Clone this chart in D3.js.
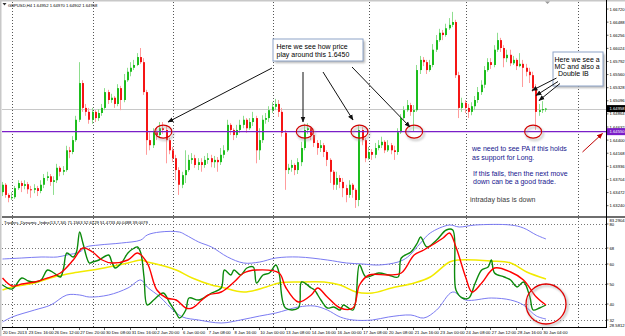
<!DOCTYPE html>
<html>
<head>
<meta charset="utf-8">
<script src="https://cdn.jsdelivr.net/npm/d3@7"></script>
<style>
  html, body { margin: 0; padding: 0; background: #fff; }
  svg { display: block; font-family: Arial, "Liberation Sans", sans-serif; }
</style>
</head>
<body>
<div id="chart"></div>
<script>
// GBPUSD H4 bars, 20 Dec 2013 .. 30 Jan 2014
const firstOpen = 1.6348;
const closes = [
  1.6361,1.6343,1.6338,1.6339,1.6355,1.6364,1.6359,1.6362,1.6353,1.6352,
  1.6355,1.6350,1.6361,1.6373,1.6376,1.6366,1.6369,1.6391,1.6384,1.6387,
  1.6422,1.6419,1.6440,1.6476,1.6541,1.6497,1.6490,1.6476,1.6490,1.6479,
  1.6488,1.6497,1.6525,1.6511,1.6515,1.6504,1.6532,1.6511,1.6546,1.6561,
  1.6568,1.6573,1.6587,1.6578,1.6525,1.6440,1.6431,1.6454,1.6449,1.6461,
  1.6458,1.6440,1.6422,1.6408,1.6387,1.6361,1.6378,1.6387,1.6405,1.6408,
  1.6396,1.6401,1.6396,1.6405,1.6408,1.6401,1.6405,1.6401,1.6414,1.6422,
  1.6467,1.6458,1.6449,1.6458,1.6467,1.6476,1.6461,1.6472,1.6479,1.6422,
  1.6440,1.6476,1.6479,1.6493,1.6499,1.6504,1.6490,1.6453,1.6387,1.6391,
  1.6396,1.6387,1.6401,1.6426,1.6458,1.6461,1.6449,1.6435,1.6426,1.6431,
  1.6419,1.6405,1.6384,1.6361,1.6373,1.6366,1.6355,1.6343,1.6361,1.6352,
  1.6334,1.6458,1.6440,1.6408,1.6419,1.6414,1.6426,1.6431,1.6437,1.6422,
  1.6431,1.6422,1.6419,1.6454,1.6479,1.6493,1.6502,1.6490,1.6493,1.6564,
  1.6582,1.6578,1.6564,1.6573,1.6600,1.6617,1.6630,1.6626,1.6638,1.6644,
  1.6649,1.6555,1.6497,1.6506,1.6497,1.6490,1.6500,1.6511,1.6525,1.6538,
  1.6564,1.6578,1.6573,1.6600,1.6617,1.6603,1.6585,1.6591,1.6576,1.6582,
  1.6571,1.6575,1.6568,1.6561,1.6555,1.6532,1.6490,1.6493,1.6495,1.64958
];
const highs = [
  1.6366,1.6364,1.6346,1.6348,1.6359,1.6369,1.6368,1.6369,1.6366,1.6359,
  1.6362,1.6359,1.6369,1.6380,1.6384,1.6380,1.6376,1.6398,1.6394,1.6394,
  1.6430,1.6428,1.6447,1.6483,1.6578,1.6546,1.6504,1.6497,1.6497,1.6493,
  1.6495,1.6504,1.6532,1.6529,1.6522,1.6518,1.6539,1.6536,1.6557,1.6568,
  1.6578,1.6582,1.6594,1.6603,1.6585,1.6529,1.6454,1.6461,1.6463,1.6472,
  1.6472,1.6465,1.6444,1.6428,1.6414,1.6392,1.6384,1.6422,1.6414,1.6417,
  1.6414,1.6408,1.6408,1.6412,1.6417,1.6414,1.6412,1.6410,1.6426,1.6431,
  1.6476,1.6470,1.6461,1.6467,1.6476,1.6483,1.6479,1.6479,1.6490,1.6483,
  1.6461,1.6484,1.6488,1.6500,1.6507,1.6513,1.6511,1.6497,1.6458,1.6398,
  1.6405,1.6399,1.6408,1.6437,1.6469,1.6470,1.6465,1.6453,1.6440,1.6440,
  1.6435,1.6422,1.6408,1.6387,1.6384,1.6378,1.6373,1.6361,1.6369,1.6364,
  1.6355,1.6467,1.6463,1.6444,1.6428,1.6424,1.6435,1.6440,1.6446,1.6440,
  1.6440,1.6435,1.6430,1.6461,1.6486,1.6500,1.6511,1.6506,1.6502,1.6573,
  1.6589,1.6587,1.6582,1.6582,1.6610,1.6626,1.6637,1.6635,1.6646,1.6656,
  1.6667,1.6653,1.6561,1.6515,1.6511,1.6504,1.6507,1.6518,1.6534,1.6546,
  1.6571,1.6585,1.6585,1.6608,1.6630,1.6621,1.6608,1.6600,1.6600,1.6589,
  1.6585,1.6594,1.6582,1.6575,1.6568,1.6561,1.6539,1.6504,1.6509,1.64970
];
const lows = [
  1.6341,1.6338,1.6330,1.6334,1.6336,1.6352,1.6348,1.6353,1.6345,1.6338,
  1.6346,1.6341,1.6346,1.6355,1.6368,1.6359,1.6343,1.6364,1.6376,1.6378,
  1.6384,1.6408,1.6415,1.6437,1.6472,1.6490,1.6483,1.6469,1.6469,1.6472,
  1.6474,1.6483,1.6493,1.6504,1.6506,1.6497,1.6500,1.6493,1.6507,1.6543,
  1.6553,1.6564,1.6571,1.6575,1.6520,1.6414,1.6422,1.6426,1.6440,1.6444,
  1.6451,1.6399,1.6415,1.6401,1.6369,1.6343,1.6355,1.6364,1.6384,1.6398,
  1.6391,1.6387,1.6384,1.6391,1.6398,1.6392,1.6391,1.6384,1.6396,1.6408,
  1.6419,1.6449,1.6440,1.6444,1.6453,1.6461,1.6453,1.6458,1.6465,1.6399,
  1.6405,1.6435,1.6469,1.6472,1.6488,1.6493,1.6481,1.6446,1.6352,1.6380,
  1.6384,1.6378,1.6380,1.6394,1.6422,1.6451,1.6440,1.6428,1.6414,1.6419,
  1.6410,1.6394,1.6364,1.6352,1.6352,1.6355,1.6339,1.6330,1.6338,1.6338,
  1.6320,1.6323,1.6431,1.6401,1.6405,1.6405,1.6408,1.6422,1.6426,1.6417,
  1.6419,1.6415,1.6405,1.6414,1.6451,1.6476,1.6490,1.6483,1.6456,1.6490,
  1.6557,1.6571,1.6557,1.6561,1.6569,1.6596,1.6614,1.6617,1.6623,1.6635,
  1.6640,1.6550,1.6479,1.6490,1.6488,1.6479,1.6484,1.6493,1.6506,1.6520,
  1.6532,1.6561,1.6566,1.6569,1.6596,1.6596,1.6569,1.6578,1.6571,1.6573,
  1.6564,1.6569,1.6534,1.6553,1.6541,1.6525,1.6458,1.6483,1.6488,1.64902
];

// Traders Dynamic Index lines, [bar, value]
const tdiUpper = [[0,62.5],[6,63],[12,63.5],[17,63.5],[20,64.5],[24,66],[26,68.5],[30,69.5],[37,70.5],[43,72],[45,74.5],[49,76],[55,76],[57,74.5],[61,71],[65,68.5],[70,63.5],[75,60.5],[80,61],[85,63],[92,63.5],[101,62],[107,60.5],[112,60],[117,59.5],[123,61],[126,63.5],[130,70.5],[133,75.5],[139,79.5],[142,78.5],[147,79.5],[158,79.5],[162,78],[166,74.5],[169,72.5]];
const tdiLower = [[0,31],[3,33.5],[10,37],[15,39.5],[20,44.5],[24,44.5],[27,43.5],[33,44.5],[39,48],[43,52],[45,48.5],[49,43.5],[53,37],[56,33.5],[61,32],[68,30.5],[74,32],[80,34],[85,35.5],[92,38.5],[97,39],[101,37],[105,33.5],[109,32],[115,32],[120,33.5],[127,34.5],[131,33],[135,37],[140,46],[144,42],[152,43],[158,42],[162,39.5],[166,34],[169,32.5]];
const tdiBase = [[0,47],[3,48.5],[10,50.5],[16,53.5],[22,55.5],[28,57],[33,58.5],[39,60.5],[43,62],[45,61],[49,59.5],[54,57],[59,53],[65,49.5],[68,48.5],[75,46],[82,48.5],[86,50.5],[92,51],[100,51],[105,49.5],[110,46],[115,45.5],[121,48],[128,50.5],[133,53.5],[139,61],[142,62],[152,61.5],[158,60.5],[163,56],[169,52.5]];
const tdiSignal = [[0,53],[3,49],[6,50],[10,51],[14,53],[18,55.5],[22,62],[25,68],[28,66],[31,62],[34,60.5],[39,62],[42,65.5],[45,60.5],[48,47],[51,43],[54,42],[57,38],[59,38],[62,42],[64,44.5],[68,46],[72,51],[75,55.5],[79,57],[86,55.5],[88,48.5],[92,41],[96,44.5],[98,48],[101,43.5],[105,38],[109,38],[111,49.5],[114,54.5],[120,54.5],[124,55.5],[128,64.5],[131,67],[137,73],[139,75.5],[141,68.5],[144,53.5],[146,46],[149,50.5],[153,58],[158,56],[162,52],[166,43.5],[169,39.5]];
const tdiRsi = [[0,49.5],[3,47.5],[6,53],[8,51.5],[10,51],[12,52],[14,57],[16,55.5],[18,53.5],[19,58],[20,65.5],[22,63.5],[23,66],[24,76],[25,70.5],[27,60.5],[28,61],[30,62],[33,64.5],[34,61],[35,58],[37,60.5],[39,65.5],[41,68],[42,68.5],[43,65.5],[44,53.5],[45,39.5],[47,42],[50,45.5],[52,40.5],[54,35.5],[55,33],[57,37],[58,43],[61,42],[64,44.5],[65,45.5],[68,48],[69,57],[71,54.5],[72,57],[74,54.5],[76,58],[78,58.5],[79,50.5],[81,54.5],[83,55.5],[85,59.5],[86,55.5],[88,38],[92,38],[93,51],[96,48],[97,47],[99,42],[101,38],[103,38.5],[105,37],[106,39.5],[109,37],[111,59.5],[113,53.5],[117,55.5],[120,54.5],[123,53.5],[124,63],[127,66],[129,70.5],[130,73.5],[132,68.5],[135,72],[138,77],[140,77],[141,47],[143,43],[145,43],[147,50.5],[149,57],[151,58.5],[152,62],[153,55.5],[156,53.5],[158,52],[160,48.5],[162,51],[164,43.5],[165,37],[167,38],[169,39.5]];

const priceTicks = [1.66720,1.66488,1.66256,1.66024,1.65792,1.65560,1.65328,1.65096,1.64864,1.64632,1.64400,1.64168,1.63936,1.63704,1.63472,1.63240];
const tdiLevels = [80, 68, 60, 50, 40, 32];
const tdiMaxLabel = '83.2904', tdiMinLabel = '28.5812';
const dateBars = [0,8,16,24,32,40,48,56,64,72,80,88,96,104,112,120,128,136,144,152,160,168];
const dateLabels = ['20 Dec 2013','23 Dec 16:00','26 Dec 12:00','27 Dec 20:00','30 Dec 08:00','31 Dec 16:00','2 Jan 20:00','6 Jan 00:00','7 Jan 08:00','8 Jan 16:00','10 Jan 00:00','13 Jan 08:00','14 Jan 16:00','16 Jan 00:00','17 Jan 08:00','20 Jan 08:00','21 Jan 16:00','23 Jan 00:00','24 Jan 08:00','27 Jan 12:00','28 Jan 16:00','30 Jan 04:00'];
const gridBars = [3, 28, 53, 84, 114, 144, 179];

const levelPrice = 1.64550;          // purple horizontal line
const circleBars = [50, 94, 111, 128, 165];

const W = 625, H = 336;
const L = 2, R = 606, mainTop = 2, mainBot = 216, indTop = 218, indBot = 327;

const x = d3.scaleLinear().domain([0, 169]).range([2.5, 546]);
const y = d3.scaleLinear().domain([1.66880, 1.63057]).range([0, 216]);
const yi = d3.scaleLinear().domain([83, 28.5]).range([218, 327]);

const svg = d3.select('#chart').append('svg')
  .attr('width', W).attr('height', H);

const defs = svg.append('defs');
defs.append('clipPath').attr('id', 'clipMain')
  .append('rect').attr('x', L).attr('y', mainTop).attr('width', R - L).attr('height', mainBot - mainTop);
defs.append('clipPath').attr('id', 'clipInd')
  .append('rect').attr('x', L).attr('y', indTop).attr('width', R - L).attr('height', indBot - indTop);
defs.append('filter').attr('id', 'blur').attr('x', '-20%').attr('y', '-20%').attr('width', '140%').attr('height', '140%')
  .append('feGaussianBlur').attr('stdDeviation', 1.2);

function addMarker(id, color) {
  defs.append('marker').attr('id', id)
    .attr('viewBox', '0 0 10 10').attr('refX', 9).attr('refY', 5)
    .attr('markerWidth', 6).attr('markerHeight', 6)
    .attr('markerUnits', 'userSpaceOnUse').attr('orient', 'auto')
    .append('path').attr('d', 'M0,1 L10,5 L0,9 z').attr('fill', color);
}
addMarker('arrBlack', '#111');
addMarker('arrRed', '#c00000');

svg.append('rect').attr('width', W).attr('height', H).attr('fill', '#fff');
svg.append('rect').attr('x', 0).attr('y', 0).attr('width', W).attr('height', 1.5).attr('fill', '#c8c8c8');
svg.append('rect').attr('x', 0).attr('y', 0).attr('width', 1.5).attr('height', H).attr('fill', '#c8c8c8');

// vertical dotted grid (both panels)
svg.append('g').selectAll('line').data(gridBars).enter().append('line')
  .attr('x1', d => Math.round(x(d)) + 0.5).attr('x2', d => Math.round(x(d)) + 0.5)
  .attr('y1', mainTop).attr('y2', indBot)
  .attr('stroke', '#555').attr('stroke-dasharray', '1,2').attr('stroke-width', 1);

// TDI level lines
svg.append('g').selectAll('line').data(tdiLevels).enter().append('line')
  .attr('x1', L).attr('x2', R)
  .attr('y1', d => Math.round(yi(d)) + 0.5).attr('y2', d => Math.round(yi(d)) + 0.5)
  .attr('stroke', '#777').attr('stroke-dasharray', '1,2');

// panel separator
svg.append('rect').attr('x', L).attr('y', mainBot).attr('width', W - L).attr('height', 2).attr('fill', '#6e6e6e');

const lastClose = closes[closes.length - 1];

// bid line
svg.append('line').attr('x1', L).attr('x2', R)
  .attr('y1', Math.round(y(lastClose)) + 0.5).attr('y2', Math.round(y(lastClose)) + 0.5)
  .attr('stroke', '#c8c8c8');

// candles
const bars = closes.map((c, i) => ({
  i: i, o: i === 0 ? firstOpen : closes[i - 1], h: highs[i], l: lows[i], c: c
}));
const gC = svg.append('g').attr('clip-path', 'url(#clipMain)');
const candle = gC.selectAll('g.bar').data(bars).enter().append('g').attr('class', 'bar');
candle.append('line')
  .attr('x1', d => Math.round(x(d.i)) - 0.5).attr('x2', d => Math.round(x(d.i)) - 0.5)
  .attr('y1', d => y(d.h)).attr('y2', d => y(d.l))
  .attr('stroke', d => d.c >= d.o ? '#8ede8e' : '#ff9c9c').attr('stroke-width', 1);
candle.append('rect')
  .attr('x', d => Math.round(x(d.i)) - 1).attr('width', 2)
  .attr('y', d => y(Math.max(d.o, d.c)))
  .attr('height', d => Math.max(1, Math.abs(y(d.o) - y(d.c))))
  .attr('fill', d => d.c >= d.o ? '#1dbd1d' : '#f51515');

// support level
svg.append('line').attr('x1', L).attr('x2', R)
  .attr('y1', y(levelPrice)).attr('y2', y(levelPrice))
  .attr('stroke', '#7a1ec8').attr('stroke-width', 1.2);

// TDI lines
const tdiLine = d3.line().x(d => x(d[0])).y(d => yi(d[1])).curve(d3.curveCatmullRom.alpha(0.5));
const gI = svg.append('g').attr('clip-path', 'url(#clipInd)').attr('fill', 'none');
[[tdiUpper, '#7b7bf2', 1], [tdiLower, '#7b7bf2', 1], [tdiBase, '#f2ea00', 1.5],
 [tdiRsi, '#0b8a0b', 1.4], [tdiSignal, '#ff0000', 1.4]].forEach(s => {
  gI.append('path').datum(s[0]).attr('d', tdiLine)
    .attr('stroke', s[1]).attr('stroke-width', s[2]).attr('stroke-linejoin', 'round');
});

// axes frame
svg.append('line').attr('x1', R + 0.5).attr('x2', R + 0.5).attr('y1', 0).attr('y2', indBot + 1).attr('stroke', '#000');
svg.append('line').attr('x1', L).attr('x2', R).attr('y1', indBot + 0.5).attr('y2', indBot + 0.5).attr('stroke', '#000');

// price labels
const gP = svg.append('g').attr('font-size', 4.2).attr('fill', '#000');
priceTicks.forEach(p => {
  gP.append('line').attr('x1', R).attr('x2', R + 2.5).attr('y1', y(p)).attr('y2', y(p)).attr('stroke', '#000').attr('stroke-width', 0.6);
  gP.append('text').attr('x', R + 3.5).attr('y', y(p) + 1.5).text(p.toFixed(5));
});
function priceTag(p, fill, label) {
  svg.append('rect').attr('x', R + 1).attr('y', y(p) - 3.5).attr('width', W - R - 1).attr('height', 7).attr('fill', fill);
  svg.append('text').attr('x', R + 3.5).attr('y', y(p) + 1.5).attr('font-size', 4.2).attr('fill', '#fff').text(label);
}
priceTag(lastClose, '#000', lastClose.toFixed(5));
priceTag(levelPrice, '#7a1ec8', levelPrice.toFixed(5));

// indicator labels
const gT = svg.append('g').attr('font-size', 4.2).attr('fill', '#000');
tdiLevels.forEach(v => {
  gT.append('line').attr('x1', R).attr('x2', R + 2.5).attr('y1', yi(v)).attr('y2', yi(v)).attr('stroke', '#000').attr('stroke-width', 0.6);
  gT.append('text').attr('x', R + 3.5).attr('y', yi(v) + 1.5).text(v);
});
gT.append('text').attr('x', R + 3.5).attr('y', indTop + 3.5).text(tdiMaxLabel);
gT.append('text').attr('x', R + 3.5).attr('y', indBot - 0.5).text(tdiMinLabel);

// date labels
const gD = svg.append('g').attr('font-size', 4.2).attr('fill', '#000');
dateBars.forEach((b, k) => {
  gD.append('line').attr('x1', Math.round(x(b)) - 0.5).attr('x2', Math.round(x(b)) - 0.5)
    .attr('y1', indBot).attr('y2', indBot + 3).attr('stroke', '#000').attr('stroke-width', 0.6);
  gD.append('text').attr('x', x(b) + 0.5).attr('y', 333.5).text(dateLabels[k]);
});

// titles
svg.append('path').attr('d', 'M2.5,3 L6.5,3 L4.5,5.5 Z').attr('fill', '#333');
svg.append('text').attr('x', 8).attr('y', 6.5).attr('font-size', 4.2).attr('fill', '#000')
  .text('GBPUSD,H4  1.64952 1.64970 1.64902 1.64958');
svg.append('text').attr('x', 4).attr('y', 223.5).attr('font-size', 4.2).attr('fill', '#000')
  .text('Traders_Dynamic_Index(13,7,34) 71.1563 52.6129 51.4733 40.0488 39.0079');
svg.append('path').attr('d', 'M545,1.5 L550,1.5 L547.5,4 Z').attr('fill', '#999');

// ---- annotations ----
const gA = svg.append('g');

function noteBox(bx, by, bw, bh, lines, tx, lineGap) {
  gA.append('rect').attr('x', bx + 2).attr('y', by + 2).attr('width', bw).attr('height', bh)
    .attr('fill', '#9a9a9a').attr('opacity', 0.7).attr('filter', 'url(#blur)');
  gA.append('rect').attr('x', bx).attr('y', by).attr('width', bw).attr('height', bh)
    .attr('fill', '#fff').attr('stroke', '#8ea4c8').attr('stroke-width', 1);
  lines.forEach((t, k) => {
    gA.append('text').attr('x', tx[k]).attr('y', by + 9.5 + k * lineGap)
      .attr('font-size', 7).attr('fill', '#000').text(t);
  });
}
noteBox(273, 39, 90, 22, ['Here we see how price', 'play around this 1.6450'], [276.5, 276.5], 8.3);
noteBox(553, 52, 50, 34, ['Here we see a', 'MC and also a', 'Double IB'], [554.5, 554.5, 558], 7.4);

// circles on the level
circleBars.forEach(b => {
  gA.append('ellipse').attr('cx', x(b) + 1.5).attr('cy', y(levelPrice) + 2).attr('rx', 8.5).attr('ry', 6.5)
    .attr('fill', 'none').attr('stroke', '#999').attr('stroke-width', 1.6).attr('opacity', 0.6).attr('filter', 'url(#blur)');
  gA.append('ellipse').attr('cx', x(b)).attr('cy', y(levelPrice)).attr('rx', 8.5).attr('ry', 6.5)
    .attr('fill', 'none').attr('stroke', '#d00000').attr('stroke-width', 1.1);
});

// circle on the TDI
gA.append('circle').attr('cx', x(169) + 1.5).attr('cy', yi(40) + 1.5).attr('r', 20)
  .attr('fill', 'none').attr('stroke', '#999').attr('stroke-width', 2).attr('opacity', 0.6).attr('filter', 'url(#blur)');
gA.append('circle').attr('cx', x(169)).attr('cy', yi(40)).attr('r', 20)
  .attr('fill', 'none').attr('stroke', '#e00000').attr('stroke-width', 1.3);

// arrows
const arrows = [
  [[272, 68], [168, 122]], [[303, 72], [303, 122]], [[323, 72], [353, 120]], [[352, 67], [410, 127]],
  [[556.5, 78], [532, 90.5]], [[558, 81.5], [536, 95.5]], [[560, 83.5], [539, 100.5]]
];
arrows.forEach(a => {
  gA.append('line').attr('x1', a[0][0]).attr('y1', a[0][1]).attr('x2', a[1][0]).attr('y2', a[1][1])
    .attr('stroke', '#111').attr('stroke-width', 1).attr('marker-end', 'url(#arrBlack)');
});
gA.append('line').attr('x1', 582.5).attr('y1', 152).attr('x2', 602.5).attr('y2', 133.5)
  .attr('stroke', '#c00000').attr('stroke-width', 1).attr('marker-end', 'url(#arrRed)');

// comments
const blueNotes = [
  ['we need to see PA if this holds', 472, 151],
  ['as support for Long.', 472, 160],
  ['If this fails, then the next move', 473, 175.5],
  ['down can be a good trade.', 473, 184]
];
blueNotes.forEach(n => {
  gA.append('text').attr('x', n[1]).attr('y', n[2]).attr('font-size', 7).attr('fill', '#15158e').text(n[0]);
});
gA.append('text').attr('x', 470).attr('y', 202).attr('font-size', 7).attr('fill', '#3a3a3a').text('intraday bias is down');
</script>
</body>
</html>
